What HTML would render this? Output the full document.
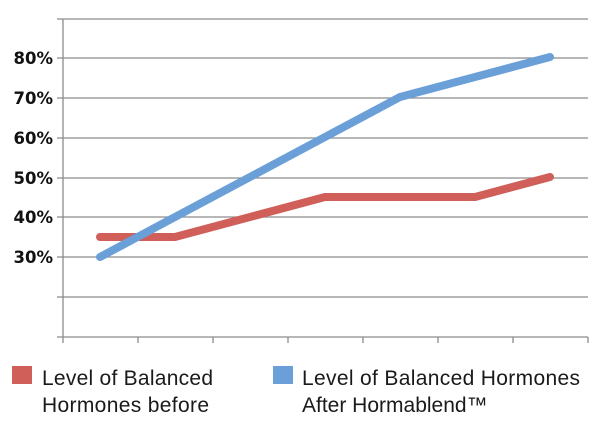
<!DOCTYPE html>
<html><head><meta charset="utf-8"><style>
body{margin:0;background:#fff;width:600px;height:431px;overflow:hidden}
</style></head><body>
<svg width="600" height="431" xmlns="http://www.w3.org/2000/svg">
<g stroke="#8c8c8c" stroke-width="1.3">
<line x1="57" y1="19" x2="588" y2="19"/>
<line x1="57" y1="58" x2="588" y2="58"/>
<line x1="57" y1="98" x2="588" y2="98"/>
<line x1="57" y1="138" x2="588" y2="138"/>
<line x1="57" y1="178" x2="588" y2="178"/>
<line x1="57" y1="217" x2="588" y2="217"/>
<line x1="57" y1="257" x2="588" y2="257"/>
<line x1="57" y1="297" x2="588" y2="297"/>
<line x1="57" y1="337" x2="588" y2="337"/>
<line x1="63" y1="19" x2="63" y2="343"/>
<line x1="138" y1="337" x2="138" y2="343"/>
<line x1="213" y1="337" x2="213" y2="343"/>
<line x1="288" y1="337" x2="288" y2="343"/>
<line x1="363" y1="337" x2="363" y2="343"/>
<line x1="438" y1="337" x2="438" y2="343"/>
<line x1="513" y1="337" x2="513" y2="343"/>
<line x1="588" y1="337" x2="588" y2="343"/>
</g>
<g font-family="DejaVu Sans, sans-serif" font-weight="bold" font-size="16.5" fill="#111" text-anchor="end">
<text x="53" y="64">80%</text>
<text x="53" y="104">70%</text>
<text x="53" y="144">60%</text>
<text x="53" y="184">50%</text>
<text x="53" y="223">40%</text>
<text x="53" y="263">30%</text>
</g>
<polyline points="100,237 175,237 250,217 325,197 400,197 475,197 550,177" fill="none" stroke="#cf5f58" stroke-width="8" stroke-linecap="round" stroke-linejoin="round"/>
<polyline points="100,257 175,217 250,177 325,137 400,97 475,77 550,57" fill="none" stroke="#6a9fd8" stroke-width="8" stroke-linecap="round" stroke-linejoin="round"/>
<rect x="12" y="366" width="20" height="18" fill="#cf5f58"/>
<rect x="273" y="366" width="20" height="18" fill="#6a9fd8"/>
<g font-family="Liberation Sans, sans-serif" font-size="21" fill="#1a1a1a">
<text x="42" y="385" textLength="171">Level of Balanced</text>
<text x="42" y="412" textLength="167">Hormones before</text>
<text x="302" y="385" textLength="278">Level of Balanced Hormones</text>
<text x="302" y="412">After Hormablend™</text>
</g>
</svg>
</body></html>
